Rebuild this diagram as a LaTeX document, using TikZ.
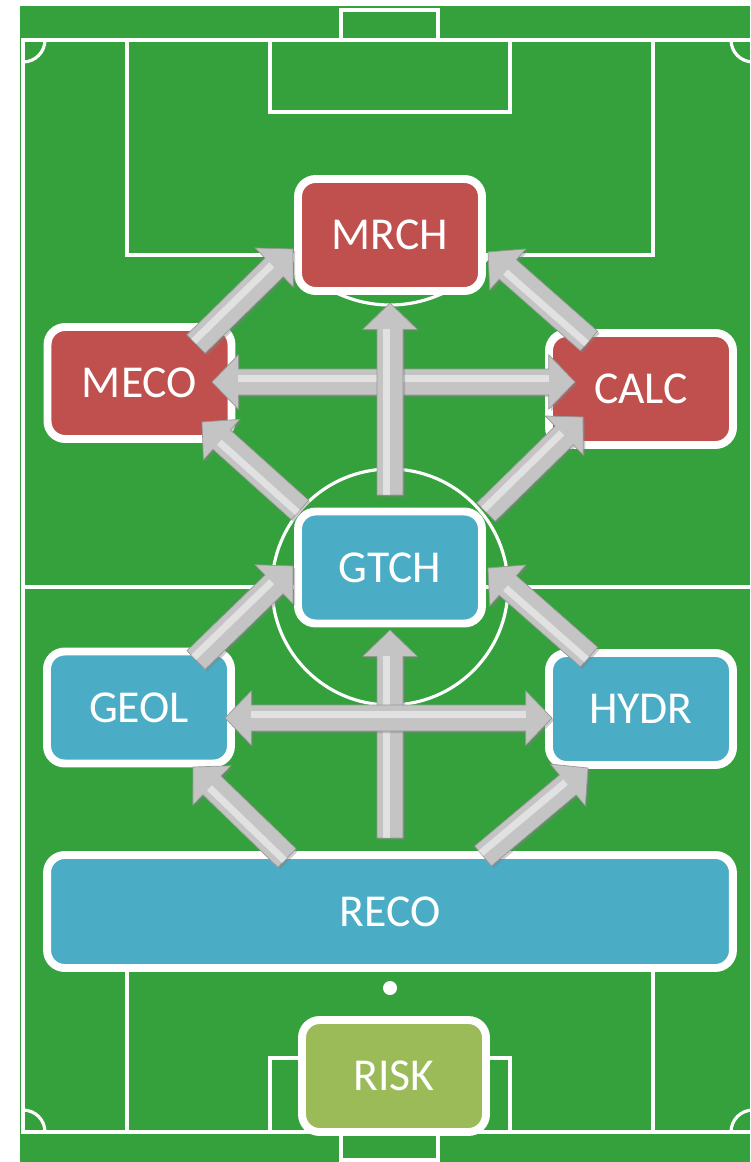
\documentclass[tikz,border=0pt]{standalone}
\usepackage{fontspec}
\setmainfont{Carlito}
\usetikzlibrary{calc,shadows}

\definecolor{pitch}{RGB}{52,161,60}
\definecolor{redbox}{RGB}{192,80,77}
\definecolor{bluebox}{RGB}{75,172,198}
\definecolor{greenbox}{RGB}{155,187,89}
\definecolor{steel}{RGB}{196,196,196}

\newcommand{\arrshaft}{7.4pt}
\newcommand{\arrhead}{15.5pt}
\newcommand{\arrlen}{15pt}

% block arrow, #1 tail, #2 tip
\newcommand{\blockarrow}[2]{
  \coordinate (neck) at ($(#2)!\arrlen!(#1)$);
  \fill[arrowbody] ($(#1)!\arrshaft!90:(#2)$) -- ($(neck)!\arrshaft!90:(#2)$) -- ($(neck)!\arrhead!90:(#2)$) -- (#2)
    -- ($(neck)!\arrhead!-90:(#2)$) -- ($(neck)!\arrshaft!-90:(#2)$) -- ($(#1)!\arrshaft!-90:(#2)$) -- cycle;
  \draw[arrowshine] ($(#1)!2pt!90:(#2)$) -- ($(neck)!2pt!90:(#2)$);
}
% block arrow with two heads
\newcommand{\twinarrow}[2]{
  \coordinate (necka) at ($(#1)!\arrlen!(#2)$);
  \coordinate (neckb) at ($(#2)!\arrlen!(#1)$);
  \fill[arrowbody] (#1) -- ($(necka)!\arrhead!90:(#2)$) -- ($(necka)!\arrshaft!90:(#2)$) -- ($(neckb)!\arrshaft!90:(#2)$)
    -- ($(neckb)!\arrhead!90:(#2)$) -- (#2) -- ($(neckb)!\arrhead!-90:(#2)$) -- ($(neckb)!\arrshaft!-90:(#2)$)
    -- ($(necka)!\arrshaft!-90:(#2)$) -- ($(necka)!\arrhead!-90:(#2)$) -- cycle;
  \draw[arrowshine] ($(necka)!2pt!90:(#2)$) -- ($(neckb)!2pt!90:(#2)$);
}

\begin{document}
\begin{tikzpicture}[x=0.02cm, y=-0.02cm]
  \tikzstyle{pitchline}=[draw=white, line width=1.8pt]
  \tikzstyle{box}=[rounded corners=10pt, draw=white, line width=4.5pt, text=white, font=\fontsize{26}{31}\selectfont,
    minimum width=3.68cm, minimum height=2.24cm, drop shadow={opacity=0.35, shadow xshift=1.5pt, shadow yshift=-1.5pt}]
  \tikzstyle{arrowbody}=[fill=steel, draw=gray!80, line width=0.4pt, drop shadow={opacity=0.4, shadow xshift=1.2pt, shadow yshift=-1.2pt}]
  \tikzstyle{arrowshine}=[white, opacity=0.5, line width=4pt]
  \useasboundingbox (0,0) rectangle (750,1162);

  % pitch
  \fill[pitch] (20,6) rectangle (750,1162);
  \draw[pitchline] (23,40) rectangle (753,1132);
  \draw[pitchline] (23,587) -- (753,587);
  \draw[pitchline] (390,587) circle (118);
  \draw[pitchline] (45,40) arc[start angle=0, end angle=90, radius=22];
  \draw[pitchline] (731,40) arc[start angle=180, end angle=90, radius=22];
  \draw[pitchline] (23,1110) arc[start angle=-90, end angle=0, radius=22];
  \draw[pitchline] (731,1132) arc[start angle=180, end angle=270, radius=22];
  \draw[pitchline] (127,40) rectangle (653,255);
  \draw[pitchline] (270,40) rectangle (510,112);
  \draw[pitchline] (341,10) rectangle (438,40);
  \draw[pitchline] (490,255) arc[start angle=36.87, end angle=143.13, radius=125];
  \draw[pitchline] (127,917) rectangle (653,1132);
  \draw[pitchline] (270,1058) rectangle (510,1132);
  \draw[pitchline] (341,1132) rectangle (438,1160);
  \draw[pitchline] (492.9,917) arc[start angle=-34.6, end angle=-145.4, radius=125];
  \fill[white] (390,988) circle (7);

  % boxes
  \node[box, fill=redbox] (mrch) at (390,235) {MRCH};
  \node[box, fill=redbox] (meco) at (139.5,383) {MECO};
  \node[box, fill=redbox] (calc) at (641,389) {CALC};
  \node[box, fill=bluebox] (gtch) at (390,567.5) {GTCH};
  \node[box, fill=bluebox] (geol) at (139,707.5) {GEOL};
  \node[box, fill=bluebox] (hydr) at (641,709) {HYDR};
  \node[box, fill=bluebox, minimum width=13.72cm, minimum height=2.26cm] (reco) at (390,911.5) {RECO};
  \node[box, fill=greenbox] (risk) at (394,1076) {RISK};

  % arrow ends
  \coordinate (mecoNE) at (196,344); \coordinate (mrchSW) at (293,249);
  \coordinate (calcNW) at (589,341); \coordinate (mrchSE) at (488,252);
  \coordinate (gtchN) at (390,495);  \coordinate (mrchS) at (390,303);
  \coordinate (mecoE) at (212,382);  \coordinate (calcW) at (575,382);
  \coordinate (gtchNW) at (300,510); \coordinate (mecoSE) at (202,422);
  \coordinate (gtchNE) at (486,512); \coordinate (calcSW) at (583,417);
  \coordinate (geolNE) at (196,660); \coordinate (gtchW) at (293,566);
  \coordinate (hydrNW) at (589,657); \coordinate (gtchE) at (488,568);
  \coordinate (recoN) at (390,838);  \coordinate (gtchS) at (390,630);
  \coordinate (geolE) at (225,718);  \coordinate (hydrW) at (552,718);
  \coordinate (recoNW) at (287,858); \coordinate (geolSE) at (193,767);
  \coordinate (recoNE) at (483,856); \coordinate (hydrSW) at (588,768);

  % arrows
  \blockarrow{mecoNE}{mrchSW}
  \blockarrow{calcNW}{mrchSE}
  \twinarrow{mecoE}{calcW}
  \blockarrow{gtchN}{mrchS}
  \blockarrow{gtchNW}{mecoSE}
  \blockarrow{gtchNE}{calcSW}
  \blockarrow{geolNE}{gtchW}
  \blockarrow{hydrNW}{gtchE}
  \blockarrow{recoN}{gtchS}
  \twinarrow{geolE}{hydrW}
  \blockarrow{recoNW}{geolSE}
  \blockarrow{recoNE}{hydrSW}
\end{tikzpicture}
\end{document}
